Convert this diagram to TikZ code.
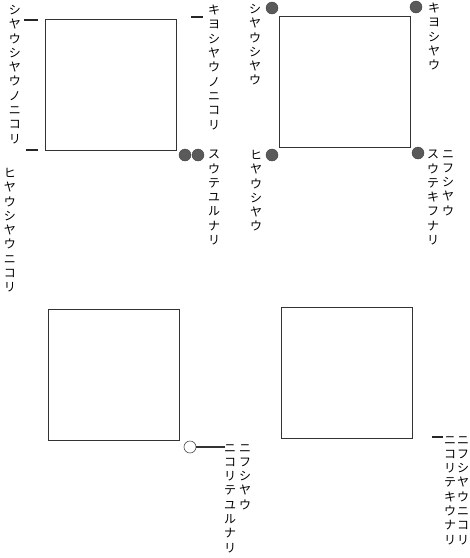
\documentclass[tikz,border=0pt]{standalone}
\usepackage{fontspec}
\newfontfamily\jfont{Noto Sans CJK JP}
\usepackage{tikz}
\usetikzlibrary{positioning,calc}
\usepackage{xcolor}
\definecolor{PanelInk}{HTML}{333333}
\definecolor{PanelDot}{HTML}{5A5A5A}

\begin{document}
\begin{tikzpicture}[x=1pt,y=-1pt,
    sq/.style={draw=PanelInk,line width=0.9pt,minimum size=131pt,inner sep=0pt},
    tate/.style={font=\jfont\fontsize{12}{14.3}\selectfont,align=center,inner sep=0pt,anchor=north},
    dot/.style={circle,fill=PanelDot,draw=black!75,line width=0.4pt,minimum size=12pt,inner sep=0pt},
    hole/.style={circle,draw=black!70,line width=0.6pt,fill=white,minimum size=12pt,inner sep=0pt},
    tick/.style={line width=1.5pt,black!85}]
    \useasboundingbox (0,0) rectangle (470,558);
    % upper left panel
    \node[sq] (sqA) at (111,84.5) {};
    \node[tate] (a1) at (15,5) {シ\\ヤ\\ウ\\シ\\ヤ\\ウ\\ノ\\ニ\\コ\\リ};
    \node[tate] (a2) at (10,168) {ヒ\\ヤ\\ウ\\シ\\ヤ\\ウ\\ニ\\コ\\リ};
    \node[tate] (a3) at (214,5) {キ\\ヨ\\シ\\ヤ\\ウ\\ノ\\ニ\\コ\\リ};
    \node[tate] (a4) at (214,150) {ス\\ウ\\テ\\ユ\\ル\\ナ\\リ};
    \node[dot] (aDot1) at (185,155) {};
    \node[dot] (aDot2) at (198,155) {};
    \coordinate (aT1) at (24,20);  \coordinate (aT2) at (38,20);
    \coordinate (aT3) at (26,150); \coordinate (aT4) at (38,150);
    \coordinate (aT5) at (191,17); \coordinate (aT6) at (203,17);
    \foreach \x/\y in {aT1/aT2,aT3/aT4,aT5/aT6}{\draw[tick] (\x)--(\y);}
    % upper right panel
    \node[sq] (sqB) at (345,81.5) {};
    \node[tate] (b1) at (255,4) {シ\\ヤ\\ウ\\シ\\ヤ\\ウ};
    \node[tate] (b2) at (434,3) {キ\\ヨ\\シ\\ヤ\\ウ};
    \node[tate] (b3) at (256,150) {ヒ\\ヤ\\ウ\\シ\\ヤ\\ウ};
    \node[tate] (b4) at (433,150) {ス\\ウ\\テ\\キ\\フ\\ナ\\リ};
    \node[tate] (b5) at (448,150) {ニ\\フ\\シ\\ヤ\\ウ};
    \foreach \n/\p in {bDot1/{(272,8)},bDot2/{(416,7)},bDot3/{(272,155)},bDot4/{(418,153)}}{\node[dot] (\n) at \p {};}
    % lower left panel
    \node[sq] (sqC) at (114,375) {};
    \node[hole] (cRing) at (190,447) {};
    \coordinate (cEnd) at (225,447);
    \draw[line width=1.2pt,black!80] (cRing)--(cEnd);
    \node[tate] (c1) at (245,444) {ニ\\フ\\シ\\ヤ\\ウ};
    \node[tate] (c2) at (230,444) {ニ\\コ\\リ\\テ\\ユ\\ル\\ナ\\リ};
    % lower right panel
    \node[sq] (sqD) at (347,372.5) {};
    \coordinate (dT1) at (432,437); \coordinate (dT2) at (443,437);
    \draw[tick] (dT1)--(dT2);
    \node[tate] (d1) at (463,436) {ニ\\フ\\シ\\ヤ\\ウ\\ニ\\コ\\リ};
    \node[tate] (d2) at (450,436) {ニ\\コ\\リ\\テ\\キ\\ウ\\ナ\\リ};
\end{tikzpicture}
\end{document}
